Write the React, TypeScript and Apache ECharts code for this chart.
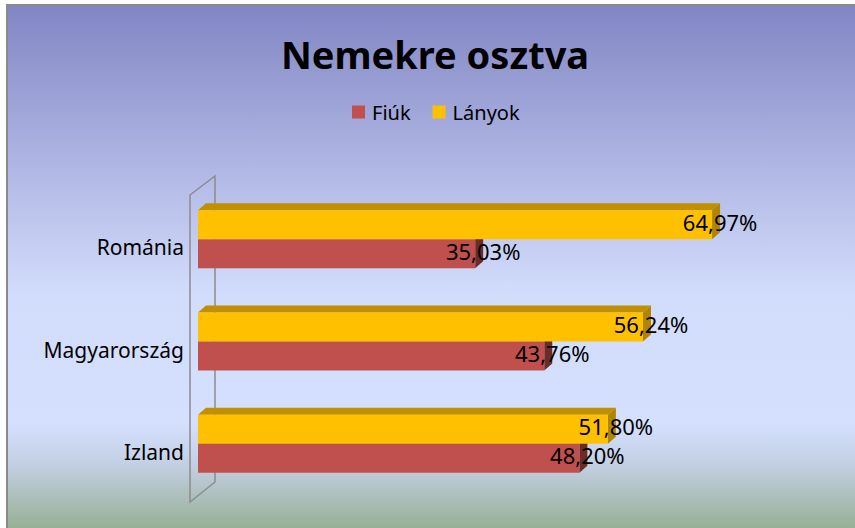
import React, { useEffect, useRef } from "react";
import * as echarts from "echarts";

const categories = ["Izland", "Magyarország", "Románia"];
const seriesNames = ["Fiúk", "Lányok"];
const fiukValues = [48.2, 43.76, 35.03];
const lanyokValues = [51.8, 56.24, 64.97];

const FONT = "'Noto Sans', 'Open Sans', sans-serif";
const DX = 8;
const DY = 7;

const palettes = [
  { front: "#C0504D", top: "#8E3532", side: "#6B2B29" },
  { front: "#FFC000", top: "#C09000", side: "#B08600" },
];

const fmt = (v: number) => v.toFixed(2).replace(".", ",") + "%";

const makeRenderItem = (seriesIdx: number) => (params: any, api: any) => {
  const cat = api.value(0);
  const val = api.value(1);
  const p0 = api.coord([0, cat]);
  const p1 = api.coord([val, cat]);
  const band = api.size([0, 1])[1];
  const bw = band * 0.283;
  const y0 = seriesIdx === 1 ? p0[1] - bw : p0[1];
  const x0 = p0[0];
  const x1 = p1[0];
  const pal = palettes[seriesIdx];
  return {
    type: "group",
    children: [
      {
        type: "polygon",
        shape: { points: [[x0, y0], [x0 + DX, y0 - DY], [x1 + DX, y0 - DY], [x1, y0]] },
        style: { fill: pal.top },
      },
      {
        type: "polygon",
        shape: { points: [[x1, y0], [x1 + DX, y0 - DY], [x1 + DX, y0 + bw - DY], [x1, y0 + bw]] },
        style: { fill: pal.side },
      },
      {
        type: "rect",
        shape: { x: x0, y: y0, width: x1 - x0, height: bw },
        style: { fill: pal.front },
      },
      {
        type: "text",
        z2: 100,
        style: {
          text: fmt(val),
          x: x1 + DX,
          y: y0 + bw / 2 - 3,
          align: "center",
          verticalAlign: "middle",
          fill: "#000",
          font: `22px ${FONT}`,
        },
      },
    ],
  };
};

export default function App() {
  const ref = useRef<HTMLDivElement>(null);
  useEffect(() => {
    document.body.style.margin = "0";
    const chart = echarts.init(ref.current!, null, { renderer: "svg" });
    chart.setOption({
      animation: false,
      backgroundColor: "transparent",
      title: {
        text: "Nemekre osztva",
        left: 422,
        textAlign: "center",
        top: 24,
        textStyle: { fontFamily: FONT, fontSize: 38, fontWeight: "bold", color: "#000" },
      },
      legend: {
        data: seriesNames,
        left: 339,
        top: 91,
        icon: "rect",
        itemWidth: 13,
        itemHeight: 13,
        itemGap: 22,
        textStyle: { fontFamily: FONT, fontSize: 20, color: "#000", padding: [0, 0, 0, 2] },
      },
      grid: { left: 190, top: 182, width: 633, height: 307 },
      xAxis: { type: "value", min: 0, max: 80, show: false },
      yAxis: {
        type: "category",
        data: categories,
        axisLine: { show: false },
        axisTick: { show: false },
        splitLine: { show: false },
        axisLabel: {
          margin: 14,
          formatter: "{a|{value}}",
          rich: {
            a: {
              fontFamily: FONT,
              fontSize: 21,
              color: "#000",
              padding: [16, 0, 0, 0],
            },
          },
        },
      },
      graphic: [
        {
          type: "polygon",
          z: 1,
          shape: { points: [[182, 189], [207, 170], [207, 476], [182, 496]] },
          style: { fill: "none", stroke: "#8c8c8c", lineWidth: 1.5 },
        },
      ],
      series: [
        {
          name: seriesNames[0],
          type: "custom",
          itemStyle: { color: palettes[0].front },
          encode: { x: 1, y: 0 },
          renderItem: makeRenderItem(0),
          data: fiukValues.map((v, i) => [i, v]),
        },
        {
          name: seriesNames[1],
          type: "custom",
          itemStyle: { color: palettes[1].front },
          encode: { x: 1, y: 0 },
          renderItem: makeRenderItem(1),
          data: lanyokValues.map((v, i) => [i, v]),
        },
      ],
    });
    return () => chart.dispose();
  }, []);
  return (
    <div style={{ position: "absolute", left: 0, top: 0, width: 855, height: 528, background: "#fff", overflow: "hidden" }}>
      <div
        style={{
          position: "absolute",
          left: 6,
          top: 4,
          width: 851,
          height: 526,
          borderTop: "2px solid #8a8a8a",
          borderLeft: "2px solid #8a8a8a",
        }}
      />
      <div
        ref={ref}
        style={{
          position: "absolute",
          left: 8,
          top: 6,
          width: 847,
          height: 522,
          background:
            "linear-gradient(to bottom, #8286C4 0%, #B6BDE8 35%, #D2DCFB 55%, #D4E0FE 80%, #C2CFE2 88%, #98B096 100%)",
        }}
      />
    </div>
  );
}
